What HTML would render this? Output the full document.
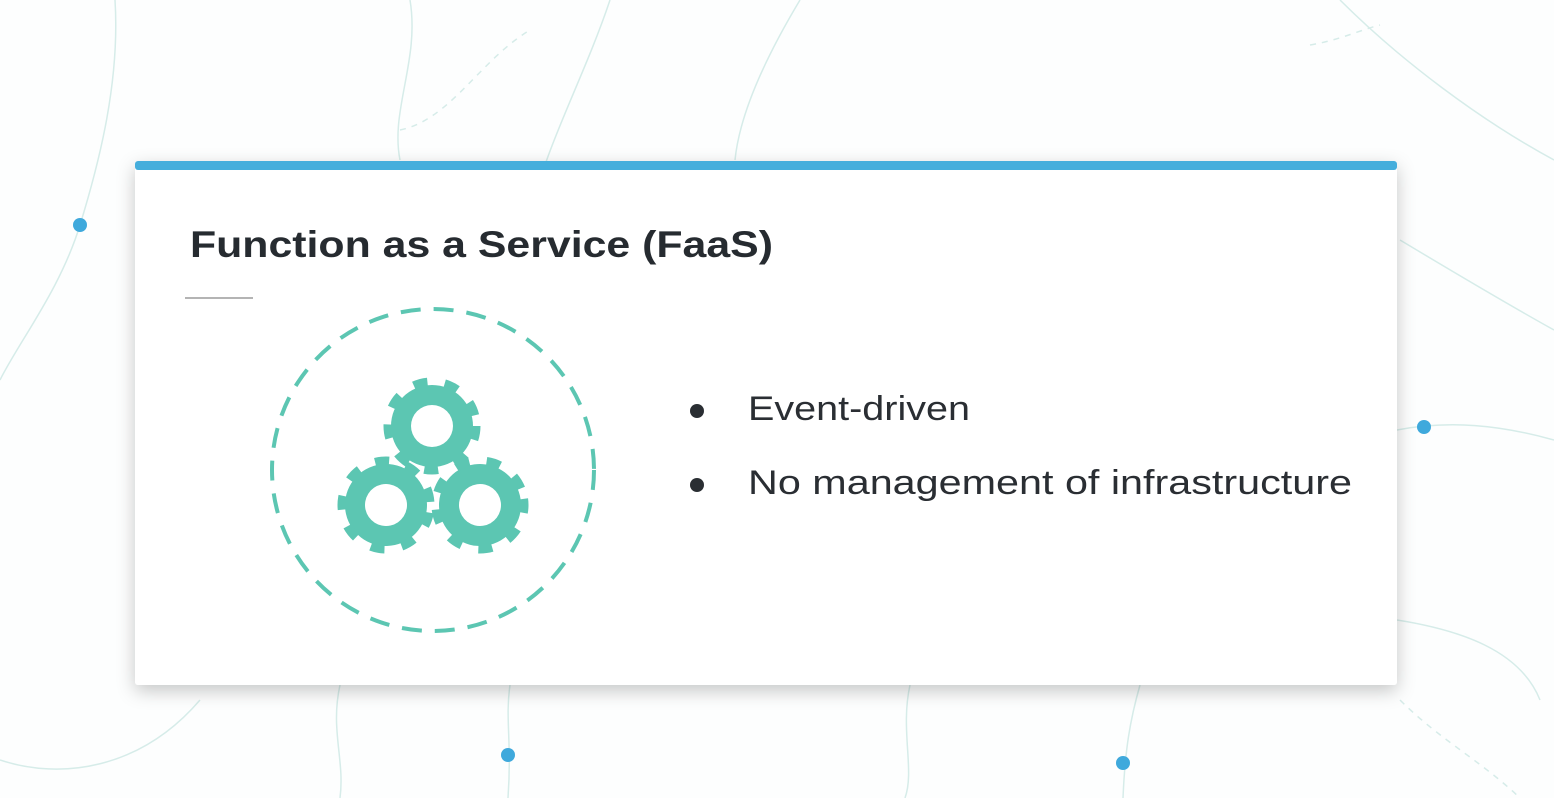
<!DOCTYPE html>
<html><head><meta charset="utf-8"><style>
html,body{margin:0;padding:0;background:#fff;width:1554px;height:798px;overflow:hidden}
svg{display:block}
</style></head><body>
<svg width="1554" height="798" viewBox="0 0 1554 798" xmlns="http://www.w3.org/2000/svg">
<defs>
<filter id="sh" x="-5%" y="-10%" width="110%" height="125%"><feDropShadow dx="0" dy="6" stdDeviation="9" flood-color="#000" flood-opacity="0.22"/></filter>
<g id="gear">
<circle r="41" fill="#5cc6b2"/>
<circle r="44" fill="none" stroke="#5cc6b2" stroke-width="9" stroke-dasharray="14 17.4"/>
<circle r="21" fill="#fff"/>
</g>
</defs>
<rect width="1554" height="798" fill="#fdfefe"/>
<g fill="none" stroke="#d6ece9" stroke-width="1.5">
<path d="M115 0 C120 80 100 160 80 225 C60 290 20 340 0 380"/>
<path d="M410 0 C420 60 390 110 400 160"/>
<path d="M610 0 C590 60 560 120 545 165"/>
<path d="M800 0 C770 50 740 110 735 160"/>
<path d="M1340 0 C1400 60 1480 120 1554 160"/>
<path d="M1400 240 C1450 270 1500 300 1554 330"/>
<path d="M1397 430 C1450 420 1500 425 1554 440"/>
<path d="M1397 620 C1460 630 1520 650 1540 700"/>
<path d="M510 685 C505 720 512 740 508 798"/>
<path d="M340 685 C330 730 345 760 340 798"/>
<path d="M1140 685 C1130 720 1125 750 1123 798"/>
<path d="M910 685 C900 730 915 770 905 798"/>
<path d="M0 760 C60 780 140 770 200 700"/>
<path d="M1400 700 C1440 740 1480 760 1520 798" stroke-dasharray="6 6"/>
<path d="M400 130 C450 120 480 60 530 30" stroke-dasharray="6 6"/>
<path d="M1310 45 C1340 40 1360 30 1380 25" stroke-dasharray="6 6"/>
</g>
<g fill="#3fa9dc">
<circle cx="80" cy="225" r="7"/>
<circle cx="1424" cy="427" r="7"/>
<circle cx="508" cy="755" r="7"/>
<circle cx="1123" cy="763" r="7"/>
</g>
<rect x="135" y="161" width="1262" height="524" rx="3" fill="#fff" filter="url(#sh)"/>
<rect x="135" y="161" width="1262" height="9" rx="3" fill="#45aedc"/>
<text x="190" y="257" font-family="Liberation Sans, sans-serif" font-weight="bold" font-size="37" fill="#262b30" textLength="583" lengthAdjust="spacingAndGlyphs">Function as a Service (FaaS)</text>
<line x1="185" y1="298" x2="253" y2="298" stroke="#b4b4b4" stroke-width="2"/>
<circle cx="433" cy="470" r="161" fill="none" stroke="#5cc6b2" stroke-width="4" stroke-dasharray="20 13"/>
<use href="#gear" x="432" y="426"/>
<use href="#gear" x="386" y="505" transform="rotate(10 386 505)"/>
<use href="#gear" x="480" y="505" transform="rotate(-8 480 505)"/>
<circle cx="697" cy="411" r="7" fill="#2a2e33"/>
<circle cx="697" cy="485" r="7" fill="#2a2e33"/>
<g font-family="Liberation Sans, sans-serif" font-size="34" fill="#2a2e33">
<text x="748" y="420" textLength="222" lengthAdjust="spacingAndGlyphs">Event-driven</text>
<text x="748" y="494" textLength="604" lengthAdjust="spacingAndGlyphs">No management of infrastructure</text>
</g>
</svg>
</body></html>
